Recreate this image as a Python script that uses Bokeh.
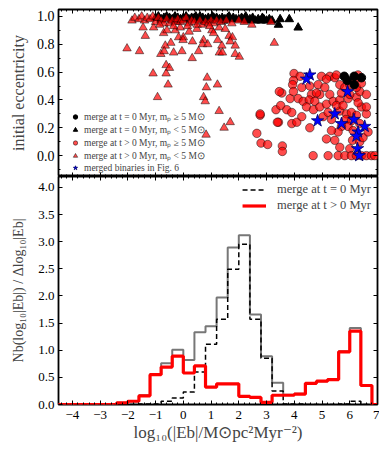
from bokeh.plotting import figure
from bokeh.models import (LinearAxis, Range1d, Legend, LegendItem, ColumnDataSource,
                          SingleIntervalTicker, PrintfTickFormatter)
from bokeh.layouts import column
from bokeh.embed import file_html
from bokeh.resources import INLINE

FONT = "Liberation Serif"

# ---------------- data: top panel (log10|Eb|, initial eccentricity) ----------------
black_triangles = [(-1.0,0.99),(-0.9,1.0),(-0.8,0.98),(-0.7,0.99),(-0.6,1.0),(-0.5,0.99),(-0.4,0.98),
    (-0.3,1.0),(-0.2,0.99),(-0.1,0.98),(0.0,0.99),(0.1,1.0),(0.2,0.98),(0.3,0.99),(0.4,0.99),(0.5,0.98),
    (0.6,1.0),(0.7,0.99),(0.8,0.98),(0.9,0.99),(1.0,0.98),(1.1,0.99),(1.2,0.99),(1.3,0.98),(1.4,0.99),
    (1.5,0.98),(1.6,0.99),(1.7,0.98),(1.8,0.99),(1.9,0.98),(2.0,0.98),(2.1,0.99),(2.2,0.98),(2.3,0.97),
    (2.4,0.98),(2.5,0.99),(2.6,0.97),(2.7,0.98),(2.8,0.97),(2.9,0.98),(3.0,0.97),(3.1,0.98),(3.2,0.97),
    (3.43,0.94),(3.49,0.98),(3.82,0.98),(4.14,0.92),(0.45,1.0),(1.05,1.0),(1.65,1.0),(2.25,1.0),
    (2.85,0.99),(-0.25,0.97),(0.75,0.97),(1.45,0.97)]

red_triangles = [(-1.85,0.97),(-2.03,0.77),(-1.58,0.75),(-1.45,0.92),(-1.37,0.86),(-1.07,0.92),(-0.71,0.88),
    (-0.45,0.81),(-0.65,0.79),(-0.81,0.73),(-0.69,0.75),(-0.35,0.74),(-0.05,0.75),(-0.62,0.65),(-0.50,0.63),
    (-1.09,0.59),(-0.62,0.59),(-0.55,0.51),(-0.93,0.42),(-0.17,0.85),(0.0,0.85),(-0.01,0.83),(0.33,0.82),
    (0.55,0.75),(0.32,0.70),(0.73,0.83),(0.69,0.80),(0.88,0.80),(1.24,0.83),(1.30,0.74),(0.86,0.56),
    (0.83,0.49),(1.23,0.51),(0.73,0.42),(0.79,0.39),(1.03,0.90),(1.09,0.88),(0.49,0.91),(0.21,0.89),
    (-0.29,0.90),(-0.59,0.90),(-0.11,0.92),(1.29,0.32),(1.69,0.24),(1.47,0.20),(0.82,0.15),(1.29,0.92),
    (1.51,0.91),(1.65,0.86),(1.77,0.85),(1.69,0.82),(1.87,0.79),(1.39,0.79),(1.41,0.74),(1.87,0.73),
    (2.02,0.71),(3.28,0.81),(2.47,0.94),(3.16,0.96),
    (-1.75,0.99),(-1.6,0.98),(-1.5,1.0),(-1.4,0.97),(-1.3,0.99),(-1.2,0.98),(-1.1,1.0),(-1.0,0.96),
    (-0.9,0.99),(-0.8,0.97),(-0.7,0.95),(-0.6,0.98),(-0.5,0.95),(-0.4,0.97),(-0.3,0.96),(-0.2,0.98),
    (-0.1,0.96),(0.0,0.97),(0.1,0.99),(0.2,0.95),(0.3,0.97),(0.4,0.96),(0.5,0.94),(0.6,0.97),(0.7,0.94),
    (0.8,0.96),(0.9,0.95),(1.0,0.97),(1.1,0.95),(1.2,0.97),(1.35,0.96),(1.55,0.97),(1.75,0.95),(2.0,0.97),
    (2.2,0.96),(-0.35,0.93),(0.15,0.93),(0.95,0.93),(-0.85,0.94)]

red_circles = [(3.99,0.59),(4.21,0.57),(3.97,0.54),(3.94,0.51),(3.55,0.45),(3.85,0.41),(3.97,0.46),
    (4.27,0.49),(4.56,0.50),(4.62,0.44),(4.86,0.51),(4.92,0.44),(4.98,0.57),(5.28,0.57),(5.16,0.55),
    (5.46,0.56),(5.52,0.58),(5.10,0.49),(5.28,0.44),(4.80,0.45),(4.14,0.41),(4.32,0.39),(4.54,0.40),
    (4.74,0.39),(4.44,0.35),(4.69,0.33),(4.92,0.35),(5.16,0.37),(5.40,0.39),(5.64,0.40),(5.94,0.41),
    (6.24,0.42),(6.36,0.46),(6.24,0.49),(6.42,0.52),(6.00,0.44),(5.70,0.45),(3.34,0.33),(3.51,0.36),
    (3.73,0.33),(3.91,0.31),(3.43,0.24),(3.91,0.23),(4.09,0.24),(4.27,0.28),(4.56,0.20),(5.04,0.28),
    (5.22,0.31),(5.34,0.26),(5.64,0.32),(5.88,0.30),(6.06,0.31),(6.24,0.29),(6.60,0.30),(6.42,0.35),
    (6.60,0.35),(5.86,0.26),(6.06,0.25),(5.94,0.21),(5.70,0.21),(5.58,0.17),(5.34,0.18),(5.16,0.12),
    (5.46,0.11),(5.64,0.06),(6.00,0.05),(6.10,0.11),(6.36,0.10),(6.48,0.13),(6.12,0.18),(6.36,0.23),
    (6.66,0.17),(4.68,0.00),(5.22,0.00),(5.58,0.00),(5.82,0.00),(6.06,0.00),(6.24,0.00),(6.42,0.00),
    (6.60,0.00),(6.78,0.00),(6.90,0.00),(2.77,0.29),(2.77,0.30),(2.65,0.16),(2.80,0.09),(3.04,0.08),
    (3.57,0.07),(3.57,0.03),(3.39,0.24),(3.46,0.46),(5.64,0.51),(5.82,0.49),(6.00,0.51),(6.16,0.54),
    (6.30,0.58),(6.60,0.44),(6.30,0.38),(5.52,0.36),(5.76,0.36)]

black_circles = [(5.80,0.57),(6.16,0.57),(6.42,0.56),(6.16,0.51),(5.91,0.54)]

stars = [(4.56,0.58),(4.44,0.55),(5.92,0.46),(5.46,0.30),(4.84,0.25),(5.70,0.23),(6.15,0.26),
    (6.54,0.21),(6.30,0.17),(6.24,0.14),(6.28,0.05),(6.34,0.00)]

# ---------------- data: bottom panel (histograms, bin width 0.4) ----------------
bin_edges = [-4.8,-4.4,-4.0,-3.6,-3.2,-2.8,-2.4,-2.0,-1.6,-1.2,-0.8,-0.4,0.0,0.4,0.8,1.2,1.6,2.0,
             2.4,2.8,3.2,3.6,4.0,4.4,4.8,5.2,5.6,6.0,6.4,6.8,7.2]
n_all = [0,0,0,0,0,0,0.03,0.06,0.17,0.56,0.76,1.01,0.82,1.33,1.44,1.97,2.89,3.12,1.66,0.89,0.40,
         0.18,0.20,0.39,0.43,0.46,0.98,1.41,0.35,0]
n_t0 = [0,0,0,0,0,0,0,0,0.01,0.01,0.06,0.12,0.23,0.60,1.11,1.57,2.49,2.95,1.57,0.85,0.25,
        0.01,0.01,0,0,0,0.01,0.06,0,0]
n_tgt0 = [0,0,0,0,0,0,0.03,0.06,0.16,0.55,0.69,0.89,0.58,0.71,0.32,0.38,0.38,0.15,0.13,0.04,0.17,
          0.17,0.19,0.39,0.43,0.46,0.97,1.35,0.35,0]

legend_top = ["merge at t = 0 Myr, mₚ ≥ 5 M⊙", "merge at t = 0 Myr, mₚ < 5 M⊙",
              "merge at t > 0 Myr, mₚ ≥ 5 M⊙", "merge at t > 0 Myr, mₚ < 5 M⊙",
              "merged binaries in Fig. 6"]
legend_bot = ["merge at t = 0 Myr", "merge at t > 0 Myr"]


def src(pairs):
    return ColumnDataSource(dict(x=[p[0] for p in pairs], y=[p[1] for p in pairs]))


def style_axis(ax, labels, fs="12px"):
    ax.major_tick_in = 4
    ax.major_tick_out = 0
    ax.minor_tick_in = 2
    ax.minor_tick_out = 0
    ax.axis_line_color = None
    ax.major_tick_line_color = "black"
    ax.minor_tick_line_color = "black"
    if labels:
        ax.major_label_text_font = FONT
        ax.major_label_text_font_size = fs
        ax.major_label_text_color = "black"
        ax.major_label_standoff = 4
    else:
        ax.major_label_text_font_size = "0px"
        ax.major_label_text_color = None
        ax.major_label_standoff = 0
    return ax


xr = Range1d(-4.5, 7.0)
xtick = SingleIntervalTicker(interval=1, num_minor_ticks=5)

# ---------------- top figure ----------------
top = figure(width=379, height=176, x_range=xr, y_range=Range1d(-0.15, 1.05),
             output_backend="svg", toolbar_location=None,
             x_axis_location=None, y_axis_location=None,
             min_border_left=58, min_border_right=2, min_border_top=9, min_border_bottom=0)
top.grid.visible = False
top.outline_line_color = "black"
top.outline_line_width = 1.8
ytick_top = SingleIntervalTicker(interval=0.2, num_minor_ticks=2)
ax = style_axis(LinearAxis(ticker=ytick_top, formatter=PrintfTickFormatter(format="%.1f")), True, "14px")
ax.axis_label = "initial eccentricity"
ax.axis_label_text_font = FONT
ax.axis_label_text_font_style = "normal"
ax.axis_label_text_font_size = "16px"
ax.axis_label_standoff = 7
top.add_layout(ax, "left")
top.add_layout(style_axis(LinearAxis(ticker=ytick_top), False), "right")
top.add_layout(style_axis(LinearAxis(ticker=xtick), False), "above")
top.add_layout(style_axis(LinearAxis(ticker=xtick), False), "below")

r_bt = top.scatter("x", "y", source=src(black_triangles), marker="triangle", size=8.5,
                   fill_color="black", line_color="black")
r_rt = top.scatter("x", "y", source=src(red_triangles), marker="triangle", size=8.5,
                   fill_color="red", fill_alpha=0.7, line_color="black", line_alpha=0.6, line_width=0.8)
r_rc = top.scatter("x", "y", source=src(red_circles), marker="circle", size=8.5,
                   fill_color="red", fill_alpha=0.7, line_color="black", line_alpha=0.6, line_width=0.8)
r_bc = top.scatter("x", "y", source=src(black_circles), marker="circle", size=8.5,
                   fill_color="black", line_color="black")
r_st = top.scatter("x", "y", source=src(stars), marker="star", size=13,
                   fill_color="blue", line_color="#000066", line_width=0.8)

leg1 = Legend(items=[LegendItem(label=legend_top[0], renderers=[r_bc]),
                     LegendItem(label=legend_top[1], renderers=[r_bt]),
                     LegendItem(label=legend_top[2], renderers=[r_rc]),
                     LegendItem(label=legend_top[3], renderers=[r_rt]),
                     LegendItem(label=legend_top[4], renderers=[r_st])],
              location=(9, 3), margin=0, padding=2, spacing=0,
              glyph_width=16, glyph_height=11, label_height=11, label_standoff=1,
              label_text_font=FONT, label_text_font_size="9.5px",
              border_line_color=None, background_fill_alpha=0)
top.add_layout(leg1, "center")

# ---------------- bottom figure ----------------
bot = figure(width=379, height=274, x_range=xr, y_range=Range1d(0, 4.2),
             output_backend="svg", toolbar_location=None,
             x_axis_location=None, y_axis_location=None,
             min_border_left=58, min_border_right=2, min_border_top=0, min_border_bottom=46)
bot.grid.visible = False
bot.outline_line_color = "black"
bot.outline_line_width = 1.8
ytick_bot = SingleIntervalTicker(interval=0.5, num_minor_ticks=0)
ay = style_axis(LinearAxis(ticker=ytick_bot, formatter=PrintfTickFormatter(format="%.1f")), True, "13px")
ay.axis_label = "Nb(log₁₀|Eb|) / Δlog₁₀|Eb|"
ay.axis_label_text_font = FONT
ay.axis_label_text_font_style = "normal"
ay.axis_label_text_font_size = "14px"
ay.axis_label_standoff = 9
bot.add_layout(ay, "left")
bot.add_layout(style_axis(LinearAxis(ticker=ytick_bot), False), "right")
bot.add_layout(style_axis(LinearAxis(ticker=xtick), False), "above")
axx = style_axis(LinearAxis(ticker=xtick), True, "13px")
axx.major_label_standoff = 6
axx.major_label_overrides = {-4: "−4", -3: "−3", -2: "−2", -1: "−1"}
axx.axis_label = "log₁₀(|Eb|/M⊙pc²Myr⁻²)"
axx.axis_label_text_font = FONT
axx.axis_label_text_font_style = "normal"
axx.axis_label_text_font_size = "17px"
axx.axis_label_standoff = 1
bot.add_layout(axx, "below")

bot.step(x=bin_edges, y=n_all + [0], mode="after", line_color="#777777", line_width=2)
r_d = bot.step(x=bin_edges, y=n_t0 + [0], mode="after", line_color="black", line_width=1.5,
               line_dash="5 3")
r_r = bot.step(x=bin_edges, y=n_tgt0 + [0], mode="after", line_color="red", line_width=3.2)

leg2 = Legend(items=[LegendItem(label=legend_bot[0], renderers=[r_d]),
                     LegendItem(label=legend_bot[1], renderers=[r_r])],
              location="top_right", margin=6, padding=3, spacing=1,
              glyph_width=24, glyph_height=15, label_height=15, label_standoff=11,
              label_text_font=FONT, label_text_font_size="12.5px",
              border_line_color=None, background_fill_alpha=0)
bot.add_layout(leg2, "center")

layout = column(top, bot, spacing=0)
open("out.html", "w").write(file_html(layout, INLINE))
